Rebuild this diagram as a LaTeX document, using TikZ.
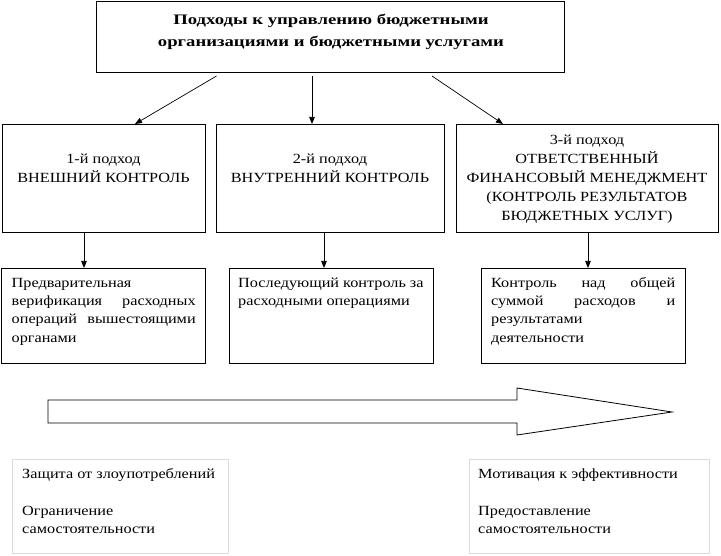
\documentclass[tikz,border=0pt]{standalone}
\usepackage{fontspec}
\setmainfont{Liberation Serif}[FakeStretch=1.16]
\newfontfamily\titlefont{Liberation Serif}[FakeStretch=1.29]
\usetikzlibrary{arrows.meta}
\begin{document}
\begin{tikzpicture}[x=1pt,y=-1pt,
  box/.style={draw=black, line width=0.8pt, inner sep=0pt, anchor=north west},
  lightbox/.style={draw=black!14, line width=0.8pt, inner sep=0pt, anchor=north west},
  txt/.style={inner sep=0pt, font=\fontsize{14}{18.4}\selectfont},
  txtc/.style={inner sep=0pt, align=center, anchor=north, font=\fontsize{14}{19}\selectfont},
  arr/.style={-{Triangle[length=7pt,width=5.5pt]}, line width=0.7pt}]
\useasboundingbox (0,0) rectangle (721,556);
\fill[white] (0,0) rectangle (721,556);

% boxes
\node[box, minimum width=468pt, minimum height=71pt] (top) at (96,1) {};
\node[box, minimum width=203pt, minimum height=108pt] (b1) at (2,124) {};
\node[box, minimum width=228pt, minimum height=108pt] (b2) at (216,124) {};
\node[box, minimum width=262pt, minimum height=108pt] (b3) at (456,124) {};
\node[box, minimum width=204pt, minimum height=95pt] (r1) at (1,268) {};
\node[box, minimum width=204pt, minimum height=95pt] (r2) at (229,268) {};
\node[box, minimum width=204pt, minimum height=95pt] (r3) at (481,268) {};
\node[lightbox, minimum width=216pt, minimum height=94pt] (l1) at (12,459) {};
\node[lightbox, minimum width=240pt, minimum height=94pt] (l2) at (469,459) {};

% title
\node[inner sep=0pt, align=center, anchor=north,
      font=\titlefont\bfseries\fontsize{14.5}{22}\selectfont] (ttl) at (331,8.6)
  {\strut Подходы к управлению бюджетными\\ организациями и бюджетными услугами};

% row 2 texts
\node[txtc] (t1) at (103.5,149.7) {\strut 1-й подход\\ВНЕШНИЙ КОНТРОЛЬ};
\node[txtc] (t2) at (330,149.7) {\strut 2-й подход\\ВНУТРЕННИЙ КОНТРОЛЬ};
\node[txtc] (t3) at (587,130.7) {\strut 3-й подход\\ОТВЕТСТВЕННЫЙ\\ФИНАНСОВЫЙ МЕНЕДЖМЕНТ\\(КОНТРОЛЬ РЕЗУЛЬТАТОВ\\БЮДЖЕТНЫХ УСЛУГ)};

% row 3 texts
\node[txt, anchor=north west, text width=184pt, align=left] (u1) at (11.5,274.1)
  {\strut Предварительная\\ верификация\hfill расходных\\ операций\hfill вышестоящими\\ органами};
\node[txt, anchor=north west, align=left] (u2) at (238,274.1)
  {\strut Последующий контроль за\\ расходными операциями};
\node[txt, anchor=north west, text width=184pt, align=left] (u3) at (491,274.1)
  {\strut Контроль\hfill над\hfill общей\\ суммой\hfill расходов\hfill и\\ результатами\\ деятельности};

% bottom texts
\node[anchor=north west, inner sep=0pt, align=left, font=\fontsize{14}{18.5}\selectfont] (w1) at (22,465)
  {\strut Защита от злоупотреблений\\ ~\\ Ограничение\\ самостоятельности};
\node[anchor=north west, inner sep=0pt, align=left, font=\fontsize{14}{18.5}\selectfont] (w2) at (478,465)
  {\strut Мотивация к эффективности\\ ~\\ Предоставление\\ самостоятельности};

% connectors
\coordinate (a1s) at (216.5,76); \coordinate (a1e) at (135,124);
\coordinate (a2s) at (312,76); \coordinate (a2e) at (312,124);
\coordinate (a3s) at (432,76); \coordinate (a3e) at (503,124);
\draw[arr] (a1s) -- (a1e);
\draw[arr] (a2s) -- (a2e);
\draw[arr] (a3s) -- (a3e);
\coordinate (v1) at (84,0); \coordinate (v2) at (324,0); \coordinate (v3) at (588,0);
\draw[arr] (b1.south -| v1) -- (r1.north -| v1);
\draw[arr] (b2.south -| v2) -- (r2.north -| v2);
\draw[arr] (b3.south -| v3) -- (r3.north -| v3);

% big arrow
\draw[line width=0.8pt, line join=miter, fill=white]
  (48,400) -- (517,400) -- (517,388) -- (672,412) -- (517,435) -- (517,423) -- (48,423) -- cycle;
\end{tikzpicture}
\end{document}
